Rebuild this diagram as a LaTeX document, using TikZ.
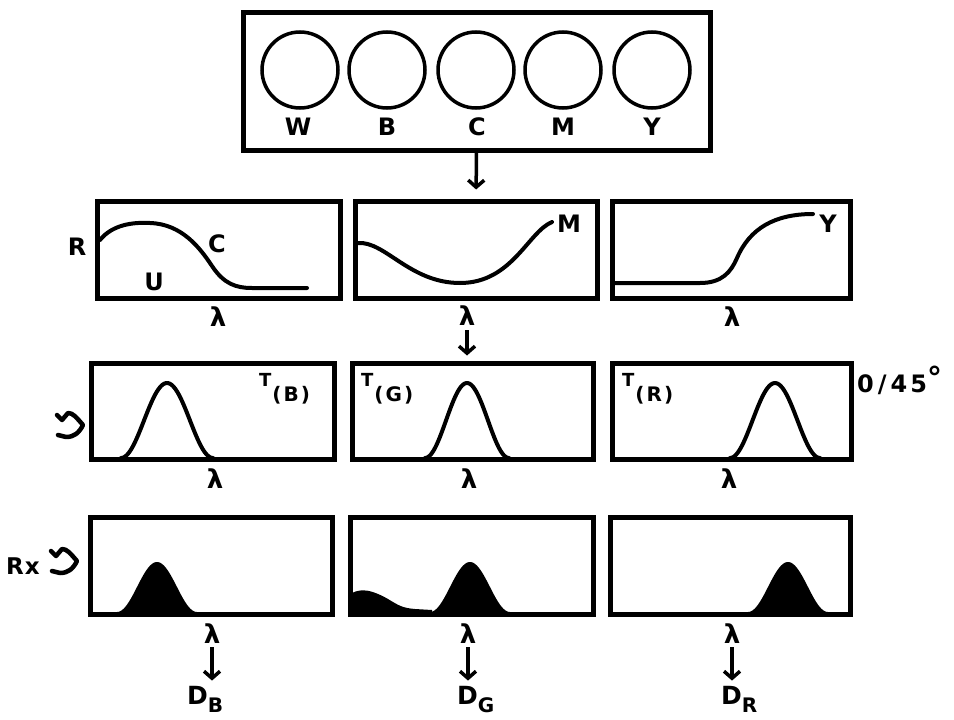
\documentclass[tikz,border=0pt]{standalone}
\usepackage{fontspec}
\setmainfont{DejaVu Sans}
\usetikzlibrary{arrows.meta}

\begin{document}
\begin{tikzpicture}[x=1pt,y=-1pt,
  panel/.style={draw, line width=5pt, rectangle, inner sep=0pt},
  lens/.style={draw, line width=3.5pt, circle, inner sep=0pt, minimum size=76pt},
  curve/.style={line width=4pt, line cap=round, line join=round},
  glyph/.style={line width=4.5pt, line cap=round, line join=round},
  lab/.style={font=\fontsize{24}{24}\selectfont\bfseries, inner sep=0pt, anchor=base},
  lam/.style={font=\fontsize{26}{26}\selectfont\bfseries, inner sep=0pt, anchor=base},
  tlab/.style={font=\fontsize{18}{18}\selectfont\bfseries, inner sep=0pt, anchor=base west},
  dlab/.style={font=\fontsize{25}{25}\selectfont\bfseries, inner sep=0pt, anchor=base west},
  arr/.style={line width=3.5pt, -{Straight Barb[length=7pt,width=16pt]}},
]
\useasboundingbox (0,0) rectangle (954,720);

% ---- filter wheel with the five reference samples ----
\node[panel, minimum width=467pt, minimum height=138pt] (top) at (476.5,81) {};
\node[lens] (cW) at (300,70) {};
\node[lens] (cB) at (387,70) {};
\node[lens] (cC) at (476,70) {};
\node[lens] (cM) at (563,70) {};
\node[lens] (cY) at (652,70) {};
\node[lab] (tW) at (298,135) {W};
\node[lab] (tB) at (387,135) {B};
\node[lab] (tC) at (477,135) {C};
\node[lab] (tM) at (563,135) {M};
\node[lab] (tY) at (652,135) {Y};

% ---- reflectance curves ----
\node[panel, minimum width=243pt, minimum height=97pt] (boxC) at (218.5,249.5) {};
\node[panel, minimum width=242pt, minimum height=97pt] (boxM) at (476,249.5) {};
\node[panel, minimum width=238pt, minimum height=97pt] (boxY) at (731,249.5) {};

\draw[curve] (100,240) .. controls (112,225) and (132,222) .. (150,223)
  .. controls (182,224) and (200,248) .. (212,266)
  .. controls (224,284) and (236,288) .. (252,288) -- (307,288);
\draw[curve] (358,243) .. controls (385,241) and (410,283) .. (460,283)
  .. controls (512,283) and (528,232) .. (552,222);
\draw[curve] (614,283) -- (700,283) .. controls (722,283) and (731,272) .. (737,258)
  .. controls (750,228) and (775,214) .. (813,214);

\node[lab] (lR) at (77,255) {R};
\node[lab] (lC) at (217,252) {C};
\node[lab] (lU) at (154,290) {U};
\node[lab] (lM) at (569,232) {M};
\node[lab] (lY) at (828,232) {Y};
\node[lam] (lamC) at (218,326) {λ};
\node[lam] (lamM) at (467,325) {λ};
\node[lam] (lamY) at (732,326) {λ};

\draw[arr, shorten >=9pt] (top.south) -- (boxM.north);

% ---- filter transmittances ----
\node[panel, minimum width=243pt, minimum height=96pt] (boxTB) at (212.5,411) {};
\node[panel, minimum width=241pt, minimum height=96pt] (boxTG) at (472.5,411) {};
\node[panel, minimum width=239pt, minimum height=96pt] (boxTR) at (731.5,411) {};

\draw[arr, shorten <=5pt, shorten >=5pt] (lamM.south) -- (lamM.south |- boxTG.north);

\draw[curve] plot[domain=-46:46, samples=60] ({167+\x},{458-75*(0.5+0.5*cos(\x*180/46))});
\draw[curve] plot[domain=-42:42, samples=60] ({467+\x},{458-75*(0.5+0.5*cos(\x*180/42))});
\draw[curve] plot[domain=-45:45, samples=60] ({775+\x},{458-75*(0.5+0.5*cos(\x*180/45))});

\node[tlab] (lTB) at (259,386) {T\kern1pt\raisebox{-15pt}{\fontsize{20}{20}\selectfont(\kern2pt B\kern2pt)}};
\node[tlab] (lTG) at (361,386) {T\kern1pt\raisebox{-15pt}{\fontsize{20}{20}\selectfont(\kern2pt G\kern2pt)}};
\node[tlab] (lTR) at (622,386) {T\kern1pt\raisebox{-15pt}{\fontsize{20}{20}\selectfont(\kern2pt R\kern2pt)}};
\node[lab, anchor=base west] (geom) at (857,392) {0\kern4pt/\kern4pt4\kern3pt5\raisebox{4pt}{\fontsize{30}{30}\selectfont °}};

\draw[glyph, shift={(70,425)}] (-13,-10) -- (-8,-5) -- (-2,-12) .. controls (3,-12) and (6,-8) .. (13,0)
  .. controls (9,8) and (4,12) .. (-4,12) -- (-12,10);

\node[lam] (lamTB) at (215,488) {λ};
\node[lam] (lamTG) at (469,488) {λ};
\node[lam] (lamTR) at (729,488) {λ};

% ---- products R x S, integrated to densities ----
\node[panel, minimum width=242pt, minimum height=97pt] (boxDB) at (211,565.5) {};
\node[panel, minimum width=243pt, minimum height=97pt] (boxDG) at (471.5,565.5) {};
\node[panel, minimum width=240pt, minimum height=97pt] (boxDR) at (730,565.5) {};

\fill plot[domain=-40:40, samples=50] ({157+\x},{612-50*(0.5+0.5*cos(\x*180/40))}) -- cycle;
\fill (352,612) -- (352,593) .. controls (362,588) and (372,590) .. (388,599)
  .. controls (398,605) and (402,608) .. (415,609) -- (432,610) -- (432,612) -- cycle;
\fill plot[domain=-40:40, samples=50] ({470+\x},{612-50*(0.5+0.5*cos(\x*180/40))}) -- cycle;
\fill plot[domain=-40:40, samples=50] ({788+\x},{612-50*(0.5+0.5*cos(\x*180/40))}) -- cycle;

\node[font=\fontsize{23}{23}\selectfont\bfseries, inner sep=0pt, anchor=base west] (lRx) at (6,574) {R\kern1pt x};
\draw[glyph, shift={(64,561)}] (-13,-10) -- (-8,-5) -- (-2,-12) .. controls (3,-12) and (6,-8) .. (13,0)
  .. controls (9,8) and (4,12) .. (-4,12) -- (-12,10);

\node[lam] (lamDB) at (212,643) {λ};
\node[lam] (lamDG) at (468,643) {λ};
\node[lam] (lamDR) at (732,643) {λ};

\node[dlab] (DB) at (187,704) {D\raisebox{-8pt}{\fontsize{20}{20}\selectfont B}};
\node[dlab] (DG) at (457,704) {D\raisebox{-8pt}{\fontsize{20}{20}\selectfont G}};
\node[dlab] (DR) at (721,704) {D\raisebox{-8pt}{\fontsize{20}{20}\selectfont R}};

\draw[arr, shorten <=4pt, shorten >=5pt] (lamDB.south) -- (lamDB.south |- DB.north);
\draw[arr, shorten <=4pt, shorten >=5pt] (lamDG.south) -- (lamDG.south |- DG.north);
\draw[arr, shorten <=4pt, shorten >=5pt] (lamDR.south) -- (lamDR.south |- DR.north);
\end{tikzpicture}
\end{document}
